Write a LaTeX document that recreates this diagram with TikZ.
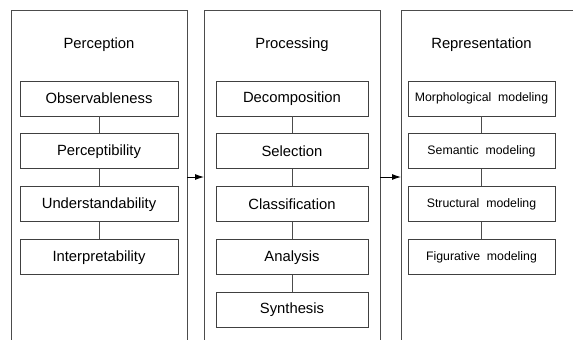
\documentclass[tikz,border=0pt]{standalone}
\usepackage{fontspec}
\setmainfont{Liberation Sans}
\usetikzlibrary{arrows.meta,positioning,shapes}

\begin{document}
\begin{tikzpicture}[x=1pt,y=-1pt,node distance=17pt]
	\tikzstyle{frame}=[draw=black!70, line width=1pt]
	\tikzstyle{title}=[font=\fontsize{14.8}{17}\selectfont]
	\tikzstyle{item}
	  =[draw=black!75, line width=0.9pt, rectangle, minimum height=35pt,
	  inner sep=0pt, font=\fontsize{14.8}{17}\selectfont, text centered]
	\tikzstyle{small}=[font=\fontsize{12.3}{14}\selectfont]
	\tikzstyle{link}=[draw=black!70, line width=0.9pt]
	\tikzstyle{flow}=[draw=black, line width=0.9pt, -{Latex[length=9pt,width=6pt]}]

	\useasboundingbox (0,0) rectangle (573,340);

	% open frames
	\draw[frame] (11,341) -- (11,10) -- (187,10) -- (187,341);
	\draw[frame] (204,341) -- (204,10) -- (380,10) -- (380,341);
	\draw[frame] (401,341) -- (401,10) -- (574,10);

	% column 1
	\node[title] (perT) at (99,45) {Perception};
	\node[item, minimum width=158pt] (obs)
	  at (99,98.5) {Observableness};
	\node[item, minimum width=158pt] (perc)
	  [below=of obs] {Perceptibility};
	\node[item, minimum width=158pt] (und)
	  [below=of perc] {Understandability};
	\node[item, minimum width=158pt] (intp)
	  [below=of und] {Interpretability};

	% column 2
	\node[title] (proT) at (292,45) {Processing};
	\node[item, minimum width=152pt] (dec)
	  at (292,98.5) {Decomposition};
	\node[item, minimum width=152pt] (sel)
	  [below=of dec] {Selection};
	\node[item, minimum width=152pt] (cla)
	  [below=of sel] {Classification};
	\node[item, minimum width=152pt] (ana)
	  [below=of cla] {Analysis};
	\node[item, minimum width=152pt] (syn)
	  [below=of ana] {Synthesis};

	% column 3
	\node[title] (repT) at (481.5,45) {Representation};
	\node[item, small, minimum width=147pt] (mor)
	  at (481.5,98.5) {Morphological\ \ modeling};
	\node[item, small, minimum width=147pt] (sem)
	  [below=of mor] {Semantic\ \ modeling};
	\node[item, small, minimum width=147pt] (str)
	  [below=of sem] {Structural\ \ modeling};
	\node[item, small, minimum width=147pt] (fig)
	  [below=of str] {Figurative\ \ modeling};

	\draw[link] (obs) -- (perc);
	\draw[link] (perc) -- (und);
	\draw[link] (und) -- (intp);
	\draw[link] (dec) -- (sel);
	\draw[link] (sel) -- (cla);
	\draw[link] (cla) -- (ana);
	\draw[link] (ana) -- (syn);
	\draw[link] (mor) -- (sem);
	\draw[link] (sem) -- (str);
	\draw[link] (str) -- (fig);

	\coordinate (out1) at (187,177);
	\coordinate (in2) at (204,177);
	\coordinate (out2) at (380,177);
	\coordinate (in3) at (401,177);
	\draw[flow] (out1) -- (in2);
	\draw[flow] (out2) -- (in3);
\end{tikzpicture}
\end{document}
